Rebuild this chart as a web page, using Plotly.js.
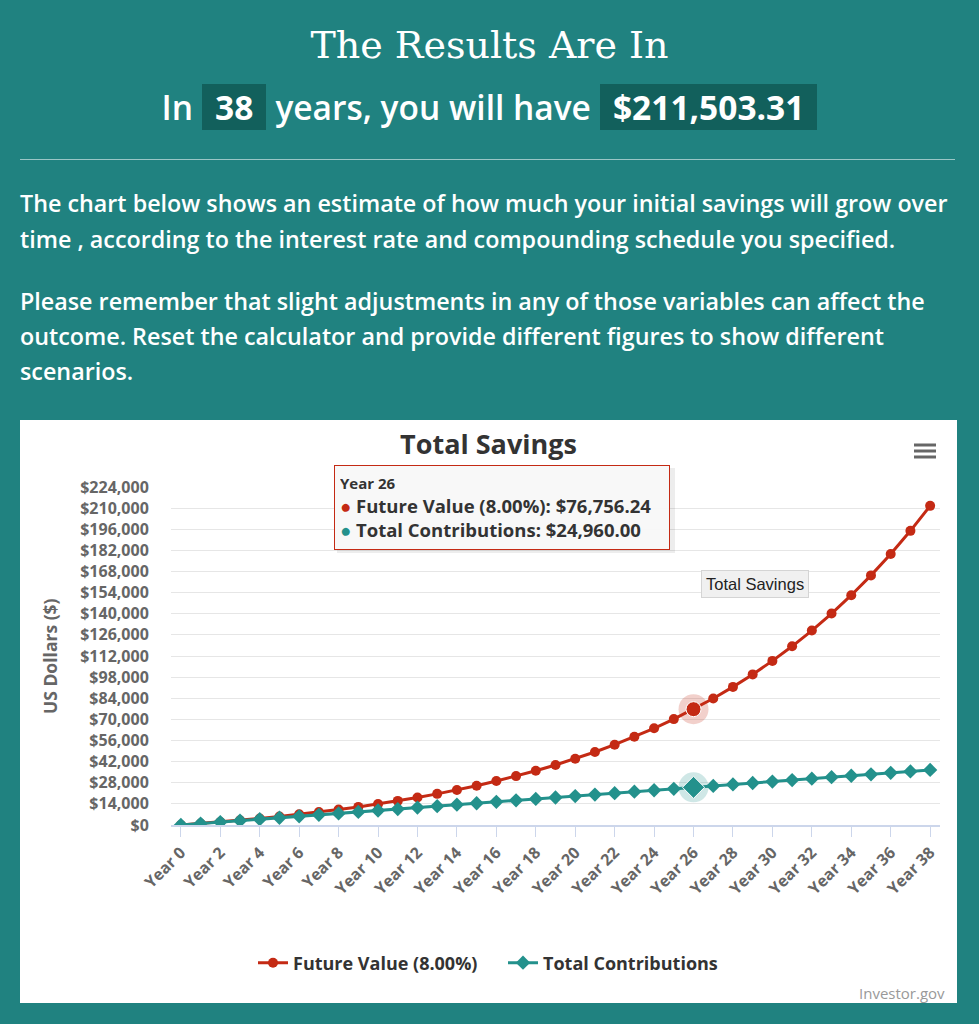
<!DOCTYPE html>
<html>
<head>
<meta charset="utf-8">
<script src="https://cdn.plot.ly/plotly-3.0.1.min.js"></script>
<style>
  html, body { margin:0; padding:0; }
  body { background:#208280; width:979px; height:1024px; overflow:hidden; position:relative;
         font-family:"Open Sans", sans-serif; color:#fff; }
  #head1 { position:absolute; top:21px; left:0; width:979px; text-align:center;
           font-family:"DejaVu Serif", serif; font-size:38px; line-height:48px; color:#fff; }
  #head2 { position:absolute; top:84px; left:0; width:979px; height:46px; display:flex;
           justify-content:center; align-items:center; font-size:33.5px; font-weight:600; white-space:nowrap; }
  #head2 .t { margin:0 9px; }
  #head2 .box { background:#12605c; height:46px; line-height:46px; padding:0 13px; font-weight:700; }
  #rule { position:absolute; top:159px; left:20px; width:935px; height:0; border-top:1.5px solid rgba(255,255,255,0.55); }
  .para { position:absolute; left:20px; font-size:23.3px; font-weight:600; white-space:nowrap; }
  #p1 { top:185px; line-height:36px; }
  #p2 { top:284px; line-height:35px; }
  #chartbox { position:absolute; left:20px; top:420px; width:937px; height:583px; background:#fff; }
</style>
</head>
<body>
<div id="head1">The Results Are In</div>
<div id="head2"><span class="t" style="margin-left:0">In</span><span class="box">38</span><span class="t">years, you will have</span><span class="box">$211,503.31</span></div>
<div id="rule"></div>
<div class="para" id="p1">The chart below shows an estimate of how much your initial savings will grow over<br>time , according to the interest rate and compounding schedule you specified.</div>
<div class="para" id="p2">Please remember that slight adjustments in any of those variables can affect the<br>outcome. Reset the calculator and provide different figures to show different<br>scenarios.</div>
<div id="chartbox"></div>
<script>
const years = ["Year 0","Year 1","Year 2","Year 3","Year 4","Year 5","Year 6","Year 7","Year 8","Year 9",
  "Year 10","Year 11","Year 12","Year 13","Year 14","Year 15","Year 16","Year 17","Year 18","Year 19",
  "Year 20","Year 21","Year 22","Year 23","Year 24","Year 25","Year 26","Year 27","Year 28","Year 29",
  "Year 30","Year 31","Year 32","Year 33","Year 34","Year 35","Year 36","Year 37","Year 38"];
const futureValue = [0, 960.00, 1996.80, 3116.54, 4325.87, 5631.94, 7042.49, 8565.89, 10211.16, 11988.06,
  13907.10, 15979.67, 18218.04, 20635.48, 23246.32, 26066.03, 29111.31, 32400.22, 35952.23, 39788.41,
  43931.49, 48406.00, 53238.48, 58457.56, 64094.17, 70181.70, 76756.24, 83856.74, 91525.28, 99807.30,
  108751.88, 118412.03, 128845.00, 140112.60, 152281.60, 165424.13, 179618.06, 194947.51, 211503.31];
const totalContributions = [0, 960, 1920, 2880, 3840, 4800, 5760, 6720, 7680, 8640,
  9600, 10560, 11520, 12480, 13440, 14400, 15360, 16320, 17280, 18240,
  19200, 20160, 21120, 22080, 23040, 24000, 24960, 25920, 26880, 27840,
  28800, 29760, 30720, 31680, 32640, 33600, 34560, 35520, 36480];
const xTickLabels = ["Year 0","Year 2","Year 4","Year 6","Year 8","Year 10","Year 12","Year 14","Year 16","Year 18",
  "Year 20","Year 22","Year 24","Year 26","Year 28","Year 30","Year 32","Year 34","Year 36","Year 38"];
const seriesNames = ["Future Value (8.00%)", "Total Contributions"];
const hoverIndex = 26;

const RED = "#c42a14", TEAL = "#23918c";
const W = 937, H = 583, ML = 151, MR = 17, MT = 67, MB = 178;
const PW = W - ML - MR, PH = H - MT - MB;
const px = x => (x - ML) / PW;          // chart-box pixel -> paper x
const py = y => (H - MB - y) / PH;      // chart-box pixel -> paper y

const fmt = v => "$" + v.toLocaleString("en-US", {minimumFractionDigits:2, maximumFractionDigits:2});

const traces = [
  { x:[years[hoverIndex]], y:[futureValue[hoverIndex]], type:"scatter", mode:"markers", showlegend:false, hoverinfo:"skip",
    marker:{ size:30, color:"rgba(196,42,20,0.22)", symbol:"circle" } },
  { x:[years[hoverIndex]], y:[totalContributions[hoverIndex]], type:"scatter", mode:"markers", showlegend:false, hoverinfo:"skip",
    marker:{ size:30, color:"rgba(35,145,140,0.22)", symbol:"circle" } },
  { x:years, y:futureValue, name:seriesNames[0], type:"scatter", mode:"lines+markers",
    line:{ color:RED, width:3 }, marker:{ color:RED, size:10, symbol:"circle" } },
  { x:years, y:totalContributions, name:seriesNames[1], type:"scatter", mode:"lines+markers",
    line:{ color:TEAL, width:3 }, marker:{ color:TEAL, size:11, symbol:"diamond" } },
  { x:[years[hoverIndex]], y:[futureValue[hoverIndex]], type:"scatter", mode:"markers", showlegend:false, hoverinfo:"skip",
    marker:{ size:15, color:RED, symbol:"circle", line:{color:"#fff", width:1} } },
  { x:[years[hoverIndex]], y:[totalContributions[hoverIndex]], type:"scatter", mode:"markers", showlegend:false, hoverinfo:"skip",
    marker:{ size:17, color:TEAL, symbol:"diamond", line:{color:"#fff", width:1} } }
];

const tipText = '<span style="font-size:15px">' + years[hoverIndex] + '</span><br>' +
  '<span style="color:' + RED + '">●</span> ' + seriesNames[0] + ': ' + fmt(futureValue[hoverIndex]) + '<br>' +
  '<span style="color:' + TEAL + '">●</span> ' + seriesNames[1] + ': ' + fmt(totalContributions[hoverIndex]);

const hamburger = [25, 31, 37].map(y => ({
  type:"line", xref:"paper", yref:"paper", x0:px(894), x1:px(916), y0:py(y), y1:py(y),
  line:{ color:"#666", width:3 }
}));

const layout = {
  width:W, height:H,
  margin:{ l:ML, r:MR, t:MT, b:MB },
  paper_bgcolor:"#fff", plot_bgcolor:"#fff",
  font:{ family:"Open Sans, sans-serif", color:"#666" },
  title:{ text:"Total Savings", x:0.5, xref:"container", xanchor:"center", y:1 - 25/H, yref:"container", yanchor:"middle",
          font:{ size:27, color:"#333", weight:700 } },
  xaxis:{ type:"category", categoryorder:"array", categoryarray:years, range:[-0.5, 38.5],
          tickmode:"array", tickvals:xTickLabels, ticktext:xTickLabels,
          tickangle:-45, ticks:"outside", ticklen:10, tickcolor:"#ccd6eb", tickwidth:1,
          showgrid:false, showline:true, linecolor:"#ccd6eb", linewidth:2, zeroline:false,
          tickfont:{ size:16, color:"#666", weight:700 } },
  yaxis:{ range:[0, 224000], tick0:0, dtick:14000, tickprefix:"$", tickformat:",d",
          showgrid:true, gridcolor:"#e6e6e6", gridwidth:1, zeroline:false, showline:false,
          ticks:"outside", ticklen:18, tickcolor:"rgba(0,0,0,0)",
          tickfont:{ size:16, color:"#666", weight:700 } },
  showlegend:true,
  legend:{ orientation:"h", x:px(233), xanchor:"left", y:py(543), yanchor:"middle",
           entrywidth:205, entrywidthmode:"pixels",
           font:{ size:18, color:"#333", weight:700 }, itemwidth:30, bgcolor:"rgba(0,0,0,0)" },
  shapes:[
    { type:"rect", xref:"paper", yref:"paper", x0:px(317), x1:px(655), y0:py(48), y1:py(133),
      fillcolor:"rgba(0,0,0,0.07)", line:{ width:0 } },
    ...hamburger
  ],
  annotations:[
    { xref:"paper", yref:"paper", x:px(30), y:0.5, text:"US Dollars ($)", textangle:-90, showarrow:false,
      xanchor:"center", yanchor:"middle", font:{ size:17.5, color:"#666", weight:700 } },
    { xref:"paper", yref:"paper", x:px(314), y:py(45), xanchor:"left", yanchor:"top", showarrow:false,
      text:tipText, align:"left", width:324, height:73, valign:"middle",
      bgcolor:"rgba(248,248,248,0.98)", bordercolor:RED, borderwidth:1, borderpad:5,
      font:{ size:18.5, color:"#333", weight:700 } },
    { xref:"paper", yref:"paper", x:px(735), y:py(164), xanchor:"center", yanchor:"middle", showarrow:false,
      text:"Total Savings", bgcolor:"#f0f0f0", bordercolor:"#d4d4d4", borderwidth:1, borderpad:4,
      font:{ size:16.5, color:"#222", family:"Liberation Sans, Arial, sans-serif" } },
    { xref:"paper", yref:"paper", x:px(927), y:py(573), xanchor:"right", yanchor:"middle", showarrow:false,
      text:"Investor.gov", font:{ size:15, color:"#999" } }
  ]
};

Plotly.newPlot("chartbox", traces, layout, { displayModeBar:false, staticPlot:true });
</script>
</body>
</html>
